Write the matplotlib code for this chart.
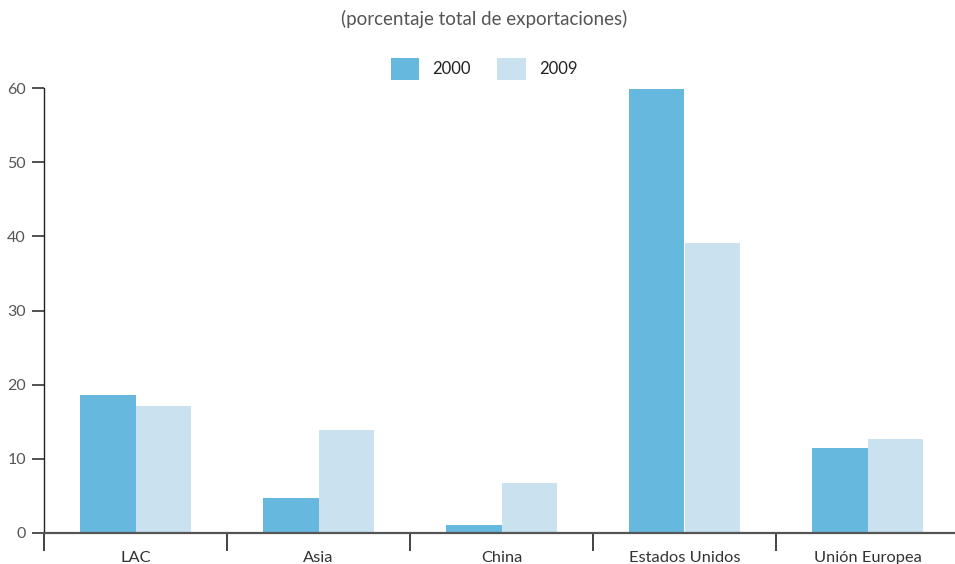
import numpy as np
import matplotlib.pyplot as plt
from matplotlib.ticker import FixedLocator

# Destination shares of total exports, 2000 vs 2009.
regions = ['LAC', 'Asia', 'China', 'Estados Unidos', 'Unión Europea']
share_2000 = [18.6, 4.7, 1.1, 59.8, 11.5]
share_2009 = [17.1, 13.9, 6.7, 39.1, 12.7]
y_ticks = [0, 10, 20, 30, 40, 50, 60]

color_2000 = '#67b8de'
color_2009 = '#cae2f0'

plt.rcParams['font.family'] = ['Lato', 'DejaVu Sans']

fig = plt.figure(figsize=(9.55, 5.64), dpi=100)
ax = fig.add_axes([44 / 955, 31 / 564, 915 / 955, 445 / 564])

x = np.arange(len(regions))
w = 0.303
b1 = ax.bar(x - w / 2, share_2000, width=w, color=color_2000, label='2000',
            linewidth=0, zorder=2)
b2 = ax.bar(x + w / 2, share_2009, width=w, color=color_2009, label='2009',
            linewidth=0, zorder=2)

ax.set_xlim(-0.5, len(regions) - 0.5)
ax.set_ylim(0, 60)

# Axes styling
for side in ('top', 'right'):
    ax.spines[side].set_visible(False)
ax.spines['left'].set_color('#222222')
ax.spines['left'].set_linewidth(1.0)
ax.spines['bottom'].set_color('#555555')
ax.spines['bottom'].set_linewidth(1.6)
ax.spines['bottom'].set_zorder(3)

ax.set_yticks(y_ticks)
ax.tick_params(axis='y', length=9, width=1.2, color='#333333',
               labelsize=11.5, labelcolor='#555555', pad=4)

# Category labels centred, boundary ticks between groups
ax.set_xticks(x)
ax.set_xticklabels(regions)
ax.tick_params(axis='x', which='major', length=0, labelsize=11.8,
               labelcolor='#333333', pad=13)
ax.xaxis.set_minor_locator(FixedLocator(np.arange(-0.5, len(regions), 1.0)))
ax.tick_params(axis='x', which='minor', length=13, width=1.2, color='#222222')

fig.text(484 / 955, 1 - 19 / 564, '(porcentaje total de exportaciones)',
         ha='center', va='center', fontsize=13.5, color='#555555')

fig.legend(handles=[b1, b2], loc='center', bbox_to_anchor=(484 / 955, 1 - 69 / 564),
           ncol=2, frameon=False, fontsize=12, handlelength=1.7, handleheight=1.7,
           handletextpad=0.8, columnspacing=1.6, labelcolor='#222222')

fig.savefig('out.png', dpi=100)
